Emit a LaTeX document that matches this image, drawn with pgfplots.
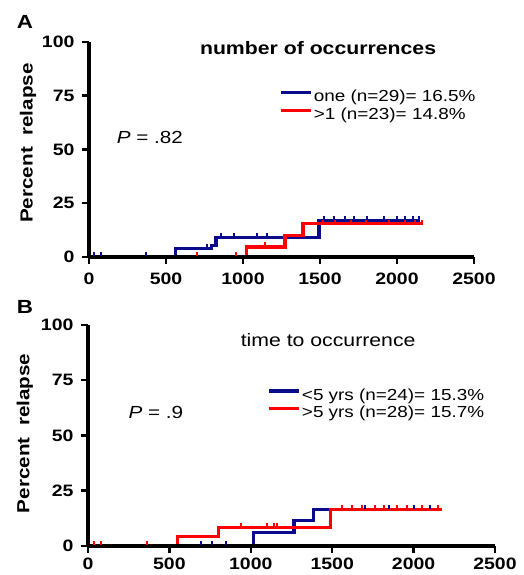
\documentclass[border=0pt]{standalone}
\usepackage{fontspec}
\setmainfont{Liberation Sans}[FakeStretch=1.18]
\usepackage{pgfplots}
\pgfplotsset{compat=1.18}
\definecolor{kmblue}{RGB}{10,10,140}
\definecolor{kmred}{RGB}{255,0,0}
\pgfplotsset{
  kmaxis/.style={
    scale only axis, anchor=south west,
    xmin=0, xmax=2500, ymin=0, ymax=100,
    axis x line*=bottom, axis y line*=left,
    axis line style={line width=3.8pt, -},
    xtick={0,500,1000,1500,2000,2500}, ytick={0,25,50,75,100},
    tick style={line width=2.5pt, black}, tick align=outside, major tick length=7pt,
    ticklabel style={font=\fontsize{16.5}{16.5}\selectfont\bfseries},
    yticklabel style={xshift=-4pt},
    /pgf/number format/assume math mode=true,
    /pgf/number format/1000 sep={},
    axis on top, clip=false,
    ylabel={Percent\ \ relapse},
    ylabel style={anchor=center, font=\fontsize{17.5}{17.5}\selectfont\bfseries},
    legend image code/.code={\draw[##1, line width=3.2pt, mark=none] (0pt,4pt) -- (30pt,4pt);},
    legend cell align=left,
  },
  kmline/.style={const plot, line width=3.3pt, mark=none},
  censor/.style={only marks, mark=|, mark size=2pt, mark options={line width=2pt}, forget plot},
}
\begin{document}
\begin{tikzpicture}
\useasboundingbox (0,0) rectangle (523pt,575pt);
\node[font=\fontsize{19}{19}\selectfont\bfseries] at (25pt,553pt) {A};
\node[font=\fontsize{19}{19}\selectfont\bfseries] at (25pt,268pt) {B};
% Panel A
\begin{axis}[kmaxis, at={(89pt,318pt)}, width=385pt, height=215pt,
  xticklabel style={yshift=-5pt},
  ylabel style={at={(axis description cs:-0.158,0.53)}},
  legend style={draw=none, fill=none, at={(axis description cs:0.4935,0.705)}, anchor=west,
    font=\fontsize{16}{16}\selectfont, row sep=2pt, inner sep=0pt, nodes={inner sep=1.5pt}},
]
\addplot[kmline, kmblue] coordinates {(0,0) (563,4) (795,5.5) (825,9) (1493,17) (2150,17)};
\addlegendentry{one (n=29)= 16.5\%}
\addplot[kmline, kmred] coordinates {(0,0) (1021,4.7) (1273,10) (1390,15.5) (2172,15.5)};
\addlegendentry{>1 (n=23)= 14.8\%}
\addplot[censor, kmblue] coordinates {(32,1.2) (78,1.2) (373,1.2) (768,5.2) (860,10.2) (941,10.2) (1093,10.2) (1157,10.2) (1524,18.2) (1589,18.2) (1664,18.2) (1718,18.2) (1805,18.2) (1913,18.2) (1999,18.2) (2053,18.2) (2107,18.2) (2140,18.2)};
\addplot[censor, kmred] coordinates {(704,1.2) (952,1.2) (1146,5.9) (1520,16.5) (1600,16.5) (1700,16.5) (1800,16.5) (1950,16.5) (2050,16.5) (2120,16.5) (2165,16.5)};
\node[font=\fontsize{18}{18}\selectfont\bfseries] at (axis description cs:0.595,0.972) {number of occurrences};
\node[font=\fontsize{17.5}{17.5}\selectfont] at (axis description cs:0.158,0.558) {\textit{P} = .82};
\end{axis}
% Panel B
\begin{axis}[kmaxis, at={(88pt,29pt)}, width=407pt, height=221pt,
  xticklabel style={yshift=-1.5pt},
  ylabel style={at={(axis description cs:-0.155,0.51)}},
  legend style={draw=none, fill=none, at={(axis description cs:0.44,0.643)}, anchor=west,
    font=\fontsize{16}{16}\selectfont, row sep=1.5pt, inner sep=0pt, nodes={inner sep=1.5pt}},
]
\addplot[kmline, kmblue] coordinates {(0,0) (1018,6) (1265,11.5) (1385,16.5) (2160,16.5)};
\addlegendentry{<5 yrs (n=24)= 15.3\%}
\addplot[kmline, kmred] coordinates {(0,0) (548,4.2) (803,8.5) (1488,16.5) (2173,16.5)};
\addlegendentry{>5 yrs (n=28)= 15.7\%}
\addplot[censor, kmblue] coordinates {(692,1.2) (764,1.2) (846,1.2) (1700,17.7) (1850,17.7) (2000,17.7) (2100,17.7)};
\addplot[censor, kmred] coordinates {(37,1.2) (78,1.2) (365,1.2) (938,9.7) (1102,9.7) (1143,9.7) (1163,9.7) (1560,17.7) (1620,17.7) (1680,17.7) (1760,17.7) (1820,17.7) (1900,17.7) (1960,17.7) (2050,17.7) (2150,17.7)};
\node[font=\fontsize{18}{18}\selectfont] at (axis description cs:0.59,0.932) {time to occurrence};
\node[font=\fontsize{17.5}{17.5}\selectfont] at (axis description cs:0.167,0.602) {\textit{P} = .9};
\end{axis}
\end{tikzpicture}
\end{document}
